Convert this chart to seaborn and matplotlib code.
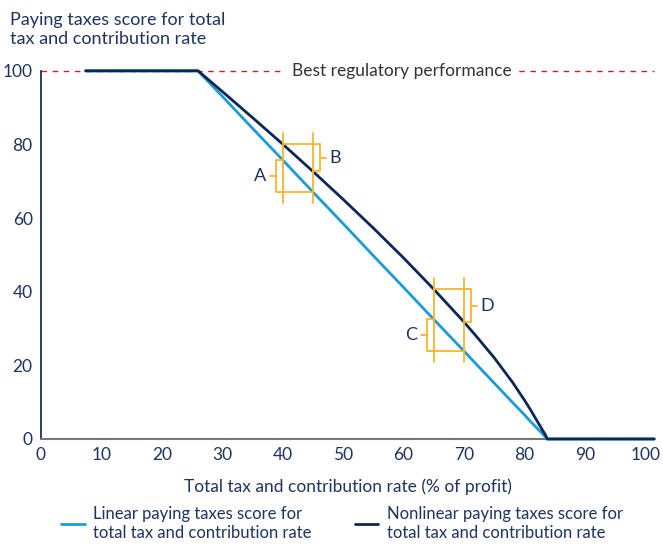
import numpy as np
import pandas as pd
import seaborn as sns
import matplotlib.pyplot as plt

# Values
rate = [7.4, 26.0, 30, 35, 40, 45, 50, 55, 60, 65, 70, 72, 75, 78, 80, 81, 82, 83, 83.5, 83.8, 101.5]
linear_score = [100, 100, 93.1, 84.4, 75.8, 67.1, 58.5, 49.8, 41.2, 32.5, 23.9, 20.4, 15.2, 10.0, 6.6, 4.8, 3.1, 1.4, 0.5, 0, 0]
nonlinear_score = [100, 100, 94.4, 87.3, 80.1, 72.7, 65.1, 57.3, 49.2, 40.7, 31.8, 28.0, 22.1, 15.5, 10.6, 8.0, 5.2, 2.4, 1.1, 0, 0]
bracket_rates = [40, 45, 65, 70]
y_ticks = [0, 20, 40, 60, 80, 100]
x_ticks = [0, 10, 20, 30, 40, 50, 60, 70, 80, 90, 100]

light_blue = "#1b9bd7"
navy = "#0c2757"
orange = "#f8b62b"
red = "#c0272d"
text_col = "#1d3461"

sns.set_theme(style="white")
plt.rcParams['font.family'] = ['Lato', 'DejaVu Sans']

df = pd.DataFrame({"rate": rate, "linear": linear_score, "nonlinear": nonlinear_score})

fig = plt.figure(figsize=(6.63, 5.46), dpi=100)
ax = fig.add_axes([0.0618, 0.196, 0.925, 0.681])

# Best performance reference line
ax.axhline(100, color=red, lw=1, ls=(0, (4, 4)), zorder=1)
ax.text(59.7, 100, "Best regulatory performance", ha="center", va="center", fontsize=12.5,
        color="#333333", backgroundcolor="white", zorder=2)

sns.lineplot(data=df, x="rate", y="linear", ax=ax, color=light_blue, lw=2,
             label="Linear paying taxes score for\ntotal tax and contribution rate", zorder=3)
sns.lineplot(data=df, x="rate", y="nonlinear", ax=ax, color=navy, lw=2,
             label="Nonlinear paying taxes score for\ntotal tax and contribution rate", zorder=4)
for line in ax.lines:
    line.set_clip_on(False)

# Brackets comparing score change between two rates
def bracket(xa, xb, side, name):
    if side == "left":
        ya = np.interp(xa, rate, linear_score)
        yb = np.interp(xb, rate, linear_score)
        bx = xa - 1.1
        ax.plot([xa, bx, bx, xb], [ya, ya, yb, yb], color=orange, lw=1.3, zorder=5)
        ym = (ya + yb) / 2
        ax.plot([bx, bx - 1.0], [ym, ym], color=orange, lw=1.3, zorder=5)
        ax.text(bx - 1.7, ym, name, ha="right", va="center", fontsize=13, color=text_col)
    else:
        ya = np.interp(xa, rate, nonlinear_score)
        yb = np.interp(xb, rate, nonlinear_score)
        bx = xb + 1.1
        ax.plot([xa, bx, bx, xb], [ya, ya, yb, yb], color=orange, lw=1.3, zorder=5)
        ym = (ya + yb) / 2
        ax.plot([bx, bx + 1.0], [ym, ym], color=orange, lw=1.3, zorder=5)
        ax.text(bx + 1.7, ym, name, ha="left", va="center", fontsize=13, color=text_col)

for x0, x1, names in [(bracket_rates[0], bracket_rates[1], ("A", "B")),
                      (bracket_rates[2], bracket_rates[3], ("C", "D"))]:
    top = np.interp(x0, rate, nonlinear_score) + 3
    bottom = np.interp(x1, rate, linear_score) - 3
    for xv in (x0, x1):
        ax.plot([xv, xv], [bottom, top], color=orange, lw=1.3, zorder=5)
    bracket(x0, x1, "left", names[0])
    bracket(x0, x1, "right", names[1])

ax.set_xlim(0, 101.5)
ax.set_ylim(0, 101)
ax.set_xticks(x_ticks)
ax.set_yticks(y_ticks)
ax.tick_params(axis="both", labelsize=12.5, colors=text_col, length=0, pad=6)
sns.despine(ax=ax)
ax.spines["left"].set_bounds(0, 100)
ax.spines["left"].set_color(navy)
ax.spines["bottom"].set_color("#777777")
ax.spines["bottom"].set_linewidth(1.5)
ax.set_xlabel("Total tax and contribution rate (% of profit)", fontsize=12.5, color=text_col, labelpad=11)
ax.set_ylabel("")

fig.text(0.015, 0.978, "Paying taxes score for total\ntax and contribution rate", ha="left", va="top",
         fontsize=13, color=text_col, linespacing=1.25)

handles, labels = ax.get_legend_handles_labels()
ax.get_legend().remove()
fig.legend(handles, labels, loc="lower left", bbox_to_anchor=(0.07, -0.018), ncol=2, frameon=False,
           fontsize=12, labelcolor=text_col, handlelength=1.4, columnspacing=2.6, handletextpad=0.5,
           labelspacing=0.15)

fig.savefig("out.png", dpi=100)
